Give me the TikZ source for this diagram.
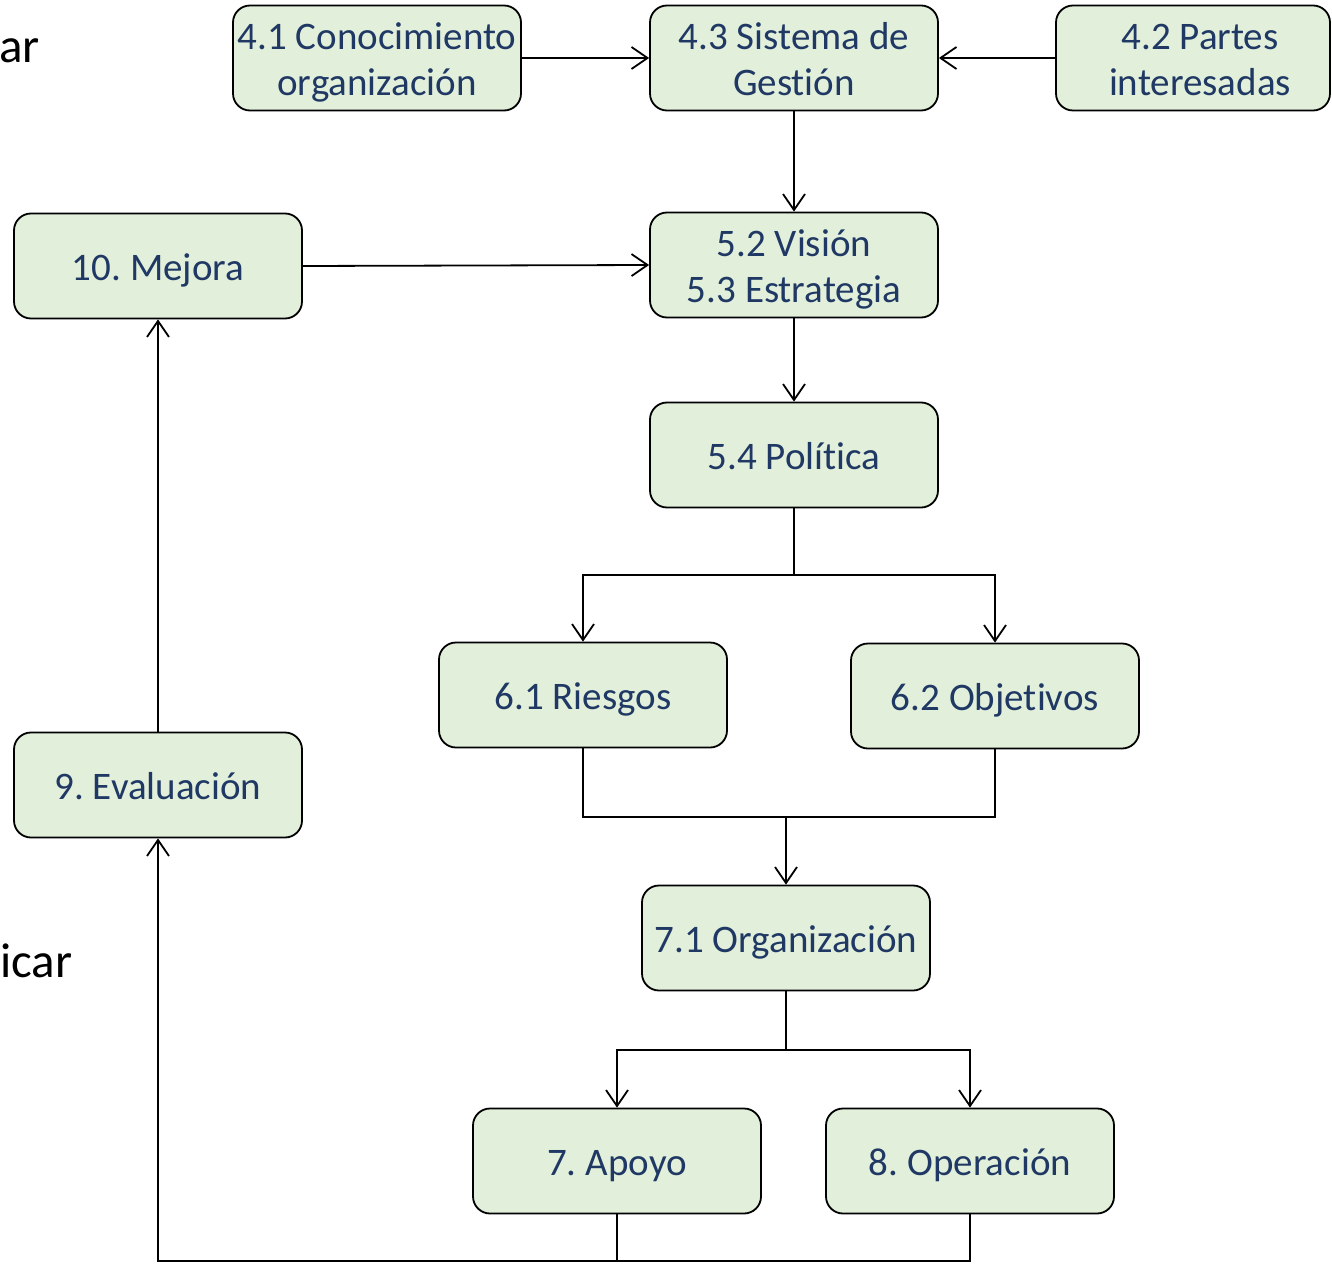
\documentclass[tikz,border=0pt]{standalone}
\usepackage{fontspec}
\setmainfont{Carlito}[RawFeature={-liga;-clig;-calt}]
\usetikzlibrary{arrows.meta}
\definecolor{boxfill}{HTML}{E2EFDA}
\definecolor{boxtext}{HTML}{1F3864}
\frenchspacing
% centred label lines, set a little below the box middle
\newcommand\clauselabel[1]{\raisebox{-5pt}[\height][\depth]{\begin{tabular}{@{}c@{}}#1\end{tabular}}}
\begin{document}
\begin{tikzpicture}[x=1pt,y=-1pt,
  clause/.style={draw=black, line width=1.8pt, fill=boxfill, rounded corners=17pt,
    minimum width=288pt, minimum height=105pt, inner sep=0pt,
    text=boxtext, font=\fontsize{39}{46}\selectfont},
  flow/.style={line width=1.8pt, -{Straight Barb[length=16pt,width=22pt,line width=1.8pt]}},
  link/.style={line width=1.8pt},
  side/.style={font=\fontsize{49}{56}\selectfont, text=black, inner sep=0pt, anchor=base west}]
\useasboundingbox (0,0) rectangle (1332,1265);

% side labels
\node[side] (plan) at (-1,63) {ar};
\node[side] (check) at (0,977) {icar};

% clause boxes
\node[clause] (c41) at (377,58)  {\clauselabel{4.1 Conocimiento\\organización}};
\node[clause] (c43) at (794,58)  {\clauselabel{4.3 Sistema de\\Gestión}};
\node[clause, minimum width=274pt] (c42) at (1193,58) {\hspace*{14pt}\clauselabel{4.2 Partes\\interesadas}};
\node[clause] (c10) at (158,266) {\clauselabel{10. Mejora}};
\node[clause] (c52) at (794,265) {\clauselabel{5.2 Visión\\5.3 Estrategia}};
\node[clause] (c54) at (794,455) {\clauselabel{5.4 Política}};
\node[clause] (c61) at (583,695) {\clauselabel{6.1 Riesgos}};
\node[clause] (c62) at (995,696) {\clauselabel{6.2 Objetivos}};
\node[clause] (c9)  at (158,785) {\clauselabel{9. Evaluación}};
\node[clause] (c71) at (786,938) {\clauselabel{7.1 Organización}};
\node[clause] (c7)  at (617,1161) {\clauselabel{7. Apoyo}};
\node[clause] (c8)  at (970,1161) {\clauselabel{8. Operación}};

% branch points
\coordinate (fork1) at (794,575);
\coordinate (join1) at (786,817);
\coordinate (fork2) at (786,1050);
\coordinate (base)  at (158,1261);

% connectors
\draw[flow] (c41) -- (c43);
\draw[flow] (c42) -- (c43);
\draw[flow] (c43) -- (c52);
\draw[flow] (c10.east) -- (c52.west);
\draw[flow] (c52) -- (c54);
\draw[link] (c54.south) -- (fork1);
\draw[flow] (fork1) -| (c61.north);
\draw[flow] (fork1) -| (c62.north);
\draw[link] (c61.south) |- (join1);
\draw[link] (c62.south) |- (join1);
\draw[flow] (join1) -- (c71.north);
\draw[link] (c71.south) -- (fork2);
\draw[flow] (fork2) -| (c7.north);
\draw[flow] (fork2) -| (c8.north);
\draw[link] (c7.south) -- (c7.south |- base);
\draw[flow] (c8.south) |- (base) -- (c9.south);
\draw[flow] (c9) -- (c10);
\end{tikzpicture}
\end{document}
